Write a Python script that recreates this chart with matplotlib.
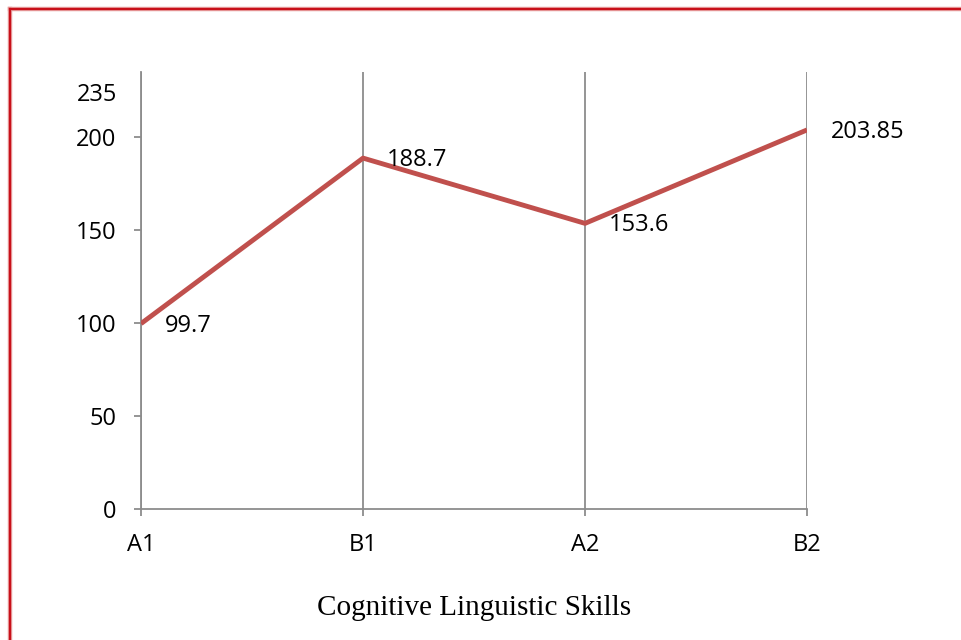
import matplotlib.pyplot as plt
from matplotlib.lines import Line2D

# data
levels = ['A1', 'B1', 'A2', 'B2']
scores = [99.7, 188.7, 153.6, 203.85]
y_ticks = [0, 50, 100, 150, 200]
y_top = 235

fig = plt.figure(figsize=(9.62, 6.4), dpi=100)
ax = fig.add_axes([0.1466, 0.2047, 0.6923, 0.6828])

x = list(range(len(levels)))
ax.plot(x, scores, color='#C0504D', linewidth=3.5, solid_capstyle='butt', zorder=3)

for xi, v in zip(x, scores):
    ax.annotate(f'{v:g}', (xi, v), xytext=(17, -1.5), textcoords='offset points',
                ha='left', va='center', fontsize=17, family='Open Sans', zorder=4)

ax.set_xlim(0, 3)
ax.set_ylim(0, y_top)
ax.set_xticks(x)
ax.set_xticklabels(levels, family='Open Sans', fontsize=17)
ax.set_yticks(y_ticks)
ax.set_yticklabels([str(t) for t in y_ticks], family='Open Sans', fontsize=17)

# top value sits a little under the axis end, no tick mark
ax.text(-0.105, 222.5, str(y_top), transform=ax.transData, ha='right', va='center',
        fontsize=17, family='Open Sans')

grey = '#8C8C8C'
for s in ['top', 'right']:
    ax.spines[s].set_visible(False)
for s in ['left', 'bottom']:
    ax.spines[s].set_color(grey)
    ax.spines[s].set_linewidth(1.3)
ax.tick_params(axis='y', direction='out', length=5, width=1.3, color=grey, pad=13)
ax.tick_params(axis='x', direction='out', length=5, width=1.3, color=grey, pad=12.5)
ax.xaxis.grid(True, color=grey, linewidth=1.3)
ax.set_axisbelow(True)

fig.text(0.4925, 1 - 608 / 640, 'Cognitive Linguistic Skills', ha='center', va='center',
         fontsize=21, family='Liberation Serif')

# red frame along top and left edges
for lw, c in [(3.2, '#E8A0A0'), (1.6, '#C8101A')]:
    fig.add_artist(Line2D([9.5 / 962, 1.0], [1 - 8.5 / 640] * 2, transform=fig.transFigure,
                          color=c, linewidth=lw))
    fig.add_artist(Line2D([9.5 / 962] * 2, [0.0, 1 - 8.5 / 640], transform=fig.transFigure,
                          color=c, linewidth=lw))

fig.savefig('out.png', dpi=100)
